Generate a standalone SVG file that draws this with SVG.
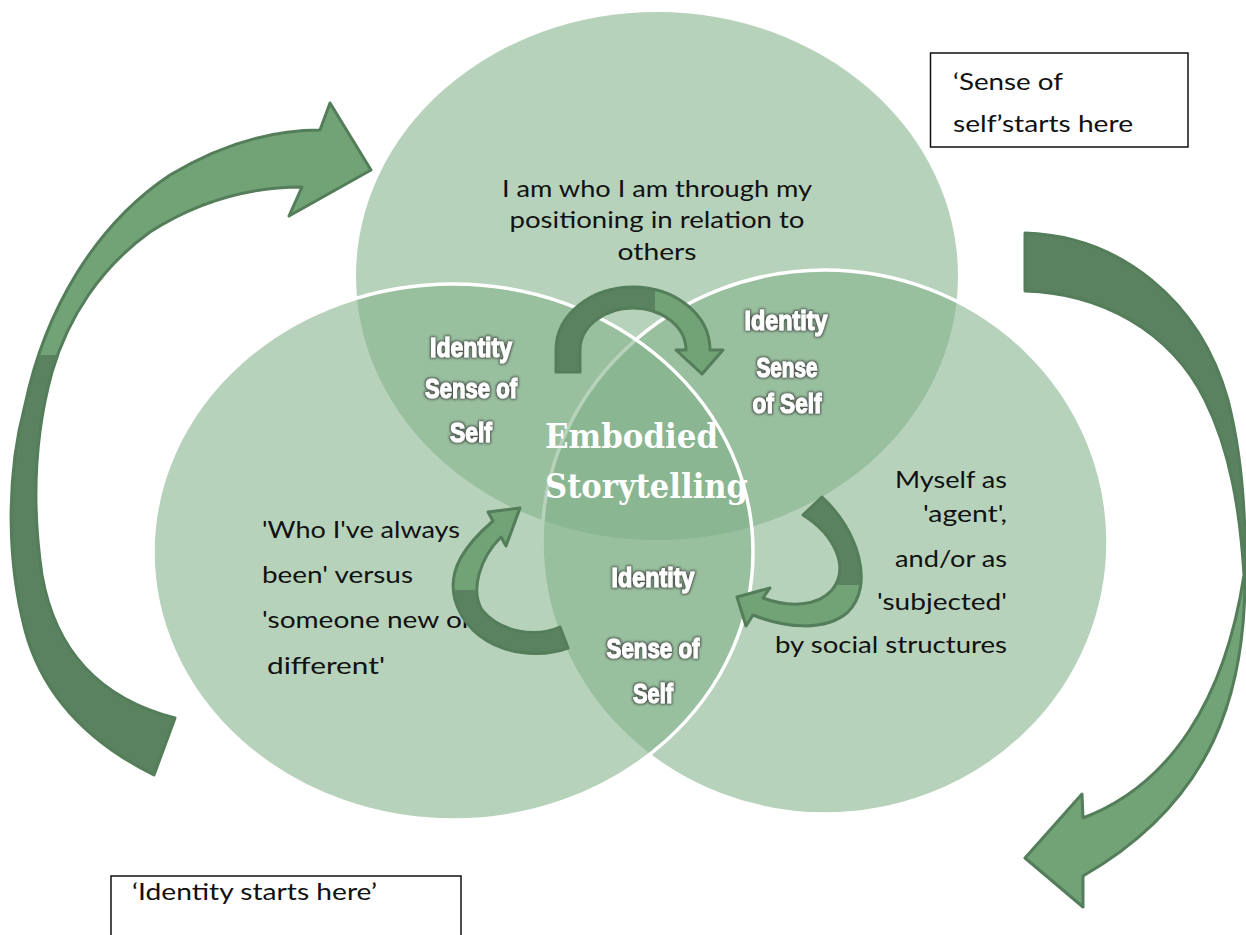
<svg xmlns="http://www.w3.org/2000/svg" width="1246" height="935" viewBox="0 0 1246 935">
  <style>
    .set { fill: rgb(129,176,136); fill-opacity: 0.57; }
    .edge { stroke: #ffffff; stroke-width: 3.5; }
    .body { font-family: Lato, "Liberation Sans", sans-serif; font-size: 24px; fill: #111111; }
    .tag { font-family: "Liberation Sans", Arial, sans-serif; font-weight: bold; font-size: 27px; fill: #ffffff; stroke: #ffffff; stroke-width: 1.1; text-anchor: middle; filter: url(#glow); }
    .core { font-family: "DejaVu Serif", "Liberation Serif", serif; font-weight: bold; font-size: 33px; fill: #ffffff; }
    .arrow { stroke: #547d5a; stroke-width: 3; stroke-linejoin: round; }
    .box { fill: #ffffff; stroke: #111111; stroke-width: 1.5; }
  </style>
  <defs>
    <filter id="glow" x="-20%" y="-50%" width="140%" height="200%">
      <feMorphology in="SourceAlpha" operator="dilate" radius="1.2" result="d"/>
      <feGaussianBlur in="d" stdDeviation="1.3" result="b"/>
      <feFlood flood-color="#3a3a3a" flood-opacity="0.8"/>
      <feComposite in2="b" operator="in" result="s"/>
      <feMerge><feMergeNode in="s"/><feMergeNode in="SourceGraphic"/></feMerge>
    </filter>
    <linearGradient id="gLeft" gradientUnits="userSpaceOnUse" x1="0" y1="100" x2="0" y2="780">
      <stop offset="0" stop-color="#71a377"/>
      <stop offset="0.375" stop-color="#71a377"/>
      <stop offset="0.375" stop-color="#5a8260"/>
      <stop offset="1" stop-color="#5a8260"/>
    </linearGradient>
    <linearGradient id="gRight" gradientUnits="userSpaceOnUse" x1="0" y1="230" x2="0" y2="910">
      <stop offset="0" stop-color="#5a8260"/>
      <stop offset="0.5" stop-color="#5a8260"/>
      <stop offset="0.5" stop-color="#71a377"/>
      <stop offset="1" stop-color="#71a377"/>
    </linearGradient>
    <linearGradient id="gTop" gradientUnits="userSpaceOnUse" x1="550" y1="0" x2="725" y2="0">
      <stop offset="0" stop-color="#5a8260"/>
      <stop offset="0.6" stop-color="#5a8260"/>
      <stop offset="0.6" stop-color="#71a377"/>
      <stop offset="1" stop-color="#71a377"/>
    </linearGradient>
    <linearGradient id="gSmallR" gradientUnits="userSpaceOnUse" x1="0" y1="495" x2="0" y2="630">
      <stop offset="0" stop-color="#5a8260"/>
      <stop offset="0.67" stop-color="#5a8260"/>
      <stop offset="0.67" stop-color="#71a377"/>
      <stop offset="1" stop-color="#71a377"/>
    </linearGradient>
    <linearGradient id="gSmallL" gradientUnits="userSpaceOnUse" x1="0" y1="505" x2="0" y2="660">
      <stop offset="0" stop-color="#71a377"/>
      <stop offset="0.55" stop-color="#71a377"/>
      <stop offset="0.55" stop-color="#5a8260"/>
      <stop offset="1" stop-color="#5a8260"/>
    </linearGradient>
  </defs>

  <rect x="0" y="0" width="1246" height="935" fill="#ffffff"/>

  <!-- three overlapping sets -->
  <g id="sets">
    <ellipse id="set-others" class="set" cx="657" cy="276" rx="301" ry="264"/>
    <ellipse id="set-agency" class="set edge" cx="825" cy="542" rx="283" ry="272"/>
    <ellipse id="set-continuity" class="set edge" cx="453" cy="552" rx="300" ry="268"/>
  </g>

  <!-- set descriptions -->
  <g id="text-others" class="body" text-anchor="middle">
    <text x="657" y="197" textLength="310" lengthAdjust="spacingAndGlyphs">I am who I am through my</text>
    <text x="657" y="228" textLength="295" lengthAdjust="spacingAndGlyphs">positioning in relation to</text>
    <text x="657" y="260" textLength="79" lengthAdjust="spacingAndGlyphs">others</text>
  </g>
  <g id="text-agency" class="body" text-anchor="end">
    <text x="1007" y="488" textLength="112" lengthAdjust="spacingAndGlyphs">Myself as</text>
    <text x="1007" y="522" textLength="84" lengthAdjust="spacingAndGlyphs">'agent',</text>
    <text x="1007" y="567" textLength="112" lengthAdjust="spacingAndGlyphs">and/or as</text>
    <text x="1007" y="610" textLength="130" lengthAdjust="spacingAndGlyphs">'subjected'</text>
    <text x="1007" y="653" textLength="232" lengthAdjust="spacingAndGlyphs">by social structures</text>
  </g>
  <g id="text-continuity" class="body">
    <text x="262" y="538" textLength="198" lengthAdjust="spacingAndGlyphs">'Who I've always</text>
    <text x="262" y="583" textLength="151" lengthAdjust="spacingAndGlyphs">been' versus</text>
    <text x="262" y="628" textLength="210" lengthAdjust="spacingAndGlyphs">'someone new or</text>
    <text x="267" y="674" textLength="118" lengthAdjust="spacingAndGlyphs">different'</text>
  </g>

  <!-- overlap labels -->
  <g id="label-left">
    <text class="tag" x="471" y="357" textLength="82" lengthAdjust="spacingAndGlyphs">Identity</text>
    <text class="tag" x="471" y="398" textLength="92" lengthAdjust="spacingAndGlyphs">Sense of</text>
    <text class="tag" x="471" y="442" textLength="42" lengthAdjust="spacingAndGlyphs">Self</text>
  </g>
  <g id="label-right">
    <text class="tag" x="786" y="330" textLength="83" lengthAdjust="spacingAndGlyphs">Identity</text>
    <text class="tag" x="787" y="377" textLength="61" lengthAdjust="spacingAndGlyphs">Sense</text>
    <text class="tag" x="787" y="413" textLength="69" lengthAdjust="spacingAndGlyphs">of Self</text>
  </g>
  <g id="label-bottom">
    <text class="tag" x="653" y="587" textLength="83" lengthAdjust="spacingAndGlyphs">Identity</text>
    <text class="tag" x="653" y="658" textLength="93" lengthAdjust="spacingAndGlyphs">Sense of</text>
    <text class="tag" x="653" y="703" textLength="40" lengthAdjust="spacingAndGlyphs">Self</text>
  </g>
  <g id="label-centre" class="core">
    <text x="545" y="448" textLength="173" lengthAdjust="spacingAndGlyphs">Embodied</text>
    <text x="545" y="498" textLength="203" lengthAdjust="spacingAndGlyphs">Storytelling</text>
  </g>

  <!-- callout boxes -->
  <g id="box-self">
    <rect class="box" x="930.5" y="53" width="257.5" height="94"/>
    <text class="body" x="953" y="90" textLength="110" lengthAdjust="spacingAndGlyphs">‘Sense of</text>
    <text class="body" x="953" y="132" textLength="180" lengthAdjust="spacingAndGlyphs">self’starts here</text>
  </g>
  <g id="box-identity">
    <rect class="box" x="111" y="876" width="350" height="70"/>
    <text class="body" x="132" y="900" textLength="245" lengthAdjust="spacingAndGlyphs">‘Identity starts here’</text>
  </g>

  <!-- curved arrows -->
  <g id="arrows" class="arrow">
    <path id="arrow-outer-left" fill="url(#gLeft)" d="M154,775 C100,748 45,705 25,630 C8,565 5,480 25,405 C45,310 95,225 170,175 C220,145 270,130 320,130 L330,103 L371,170 L289,216 L302,187 C250,187 200,200 150,232 C100,268 68,318 52,372 C36,430 31,500 42,575 C56,655 105,700 175,718 Z"/>
    <path id="arrow-outer-right" fill="url(#gRight)" d="M1025,233 C1120,236 1200,300 1228,400 C1242,455 1246,515 1245,572 C1246,690 1215,800 1083,876 L1083,907 L1025,858 L1082,794 L1083,818 C1170,785 1225,700 1244,575 C1240,510 1230,450 1205,400 C1170,330 1100,293 1025,291 Z"/>
    <path id="arrow-top" fill="url(#gTop)" d="M556,372 L556,350 A77,63 0 0 1 710,350 L723,350 L702,374 L676,350 L686,350 A53,42 0 0 0 580,350 L580,372 Z"/>
    <path id="arrow-right" fill="url(#gSmallR)" d="M822,497 C858,530 875,585 848,612 C825,632 785,628 753,615 L746,626 L737,597 L770,588 L763,598 C790,608 818,606 832,590 C850,568 835,535 803,515 Z"/>
    <path id="arrow-left" fill="url(#gSmallL)" d="M568,648 C530,662 470,650 455,600 C447,570 465,545 493,521 L488,512 L520,508 L506,546 L501,537 C480,558 470,590 482,610 C500,632 535,638 560,627 Z"/>
  </g>
</svg>
